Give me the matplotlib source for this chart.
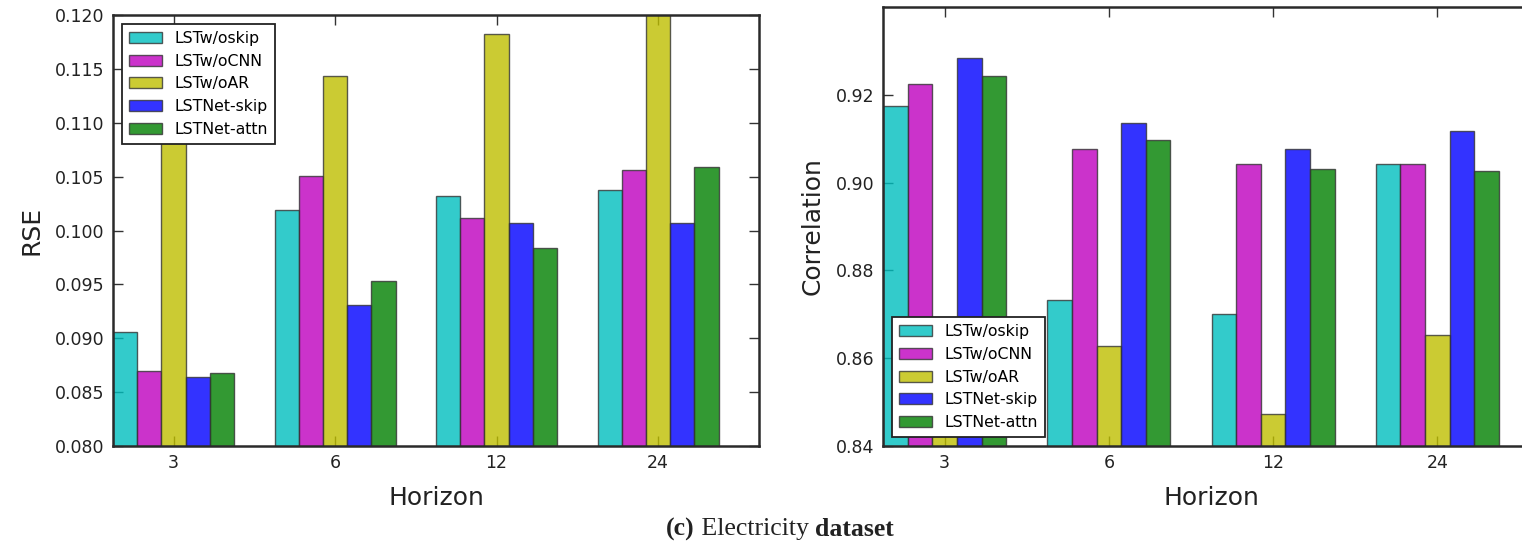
import matplotlib
matplotlib.use("Agg")
import matplotlib.pyplot as plt
import numpy as np

horizons = ["3", "6", "12", "24"]
series = ["LSTw/oskip", "LSTw/oCNN", "LSTw/oAR", "LSTNet-skip", "LSTNet-attn"]
colors = ["c", "m", "y", "b", "g"]

rse_wo_skip = [0.0906, 0.1019, 0.1032, 0.1038]
rse_wo_cnn = [0.0870, 0.1051, 0.1012, 0.1056]
rse_wo_ar = [0.1120, 0.1143, 0.1182, 0.1250]
rse_skip = [0.0864, 0.0931, 0.1007, 0.1007]
rse_attn = [0.0868, 0.0953, 0.0984, 0.1059]

corr_wo_skip = [0.9174, 0.8732, 0.8700, 0.9043]
corr_wo_cnn = [0.9225, 0.9077, 0.9043, 0.9042]
corr_wo_ar = [0.8560, 0.8628, 0.8474, 0.8653]
corr_skip = [0.9283, 0.9136, 0.9077, 0.9117]
corr_attn = [0.9243, 0.9096, 0.9030, 0.9026]

rse_yticks = [0.080, 0.085, 0.090, 0.095, 0.100, 0.105, 0.110, 0.115, 0.120]
corr_yticks = [0.84, 0.86, 0.88, 0.90, 0.92]

plt.rcParams["font.family"] = ["DejaVu Sans"]

fig = plt.figure(figsize=(15.22, 5.46), dpi=100)
ax1 = fig.add_axes([113/1522, 100/546, 646/1522, 431/546])
ax2 = fig.add_axes([883/1522, 100/546, 657/1522, 439/546])

width = 0.15
ind = np.arange(len(horizons))

def draw(ax, data, ylim, yticks, fmt, ylabel, legend_loc):
    for i, (vals, col, name) in enumerate(zip(data, colors, series)):
        ax.bar(ind + i * width, vals, width, align="edge", color=col, alpha=0.8,
               edgecolor="#333333", linewidth=1.0, label=name, zorder=2)
    ax.set_xlim(0, 4)
    ax.set_ylim(*ylim)
    ax.set_xticks(ind + 2.5 * width)
    ax.set_xticklabels(horizons)
    ax.set_yticks(yticks)
    ax.set_yticklabels([fmt % v for v in yticks])
    ax.tick_params(direction="in", top=True, right=True, length=7, width=1,
                   labelsize=12.5, pad=6, colors="#333333", labelcolor="#222222")
    for s in ax.spines.values():
        s.set_linewidth(1.8)
        s.set_color("#2a2a2a")
    ax.set_xlabel("Horizon", fontsize=18, color="#222222", labelpad=10)
    ax.set_ylabel(ylabel, fontsize=18, color="#222222", labelpad=8)
    leg = ax.legend(loc=legend_loc, fontsize=11.3, fancybox=False, framealpha=1,
                    edgecolor="#222222", borderaxespad=0.55, handlelength=2.1,
                    labelspacing=0.5, borderpad=0.45)
    leg.get_frame().set_linewidth(1.3)
    leg.set_zorder(5)

draw(ax1, [rse_wo_skip, rse_wo_cnn, rse_wo_ar, rse_skip, rse_attn],
     (0.080, 0.120), rse_yticks, "%.3f", "RSE", "upper left")
draw(ax2, [corr_wo_skip, corr_wo_cnn, corr_wo_ar, corr_skip, corr_attn],
     (0.84, 0.94), corr_yticks, "%.2f", "Correlation", "lower left")

# caption with mixed weights
fig.canvas.draw()
renderer = fig.canvas.get_renderer()
parts = [("(c)", "bold"), (" Electricity ", "normal"), ("dataset", "bold")]
texts = []
for s, w in parts:
    t = fig.text(0, 17/546, s, fontsize=18.5, fontweight=w, family="Liberation Serif",
                 color="#222222", va="center", ha="left")
    texts.append(t)
widths = [t.get_window_extent(renderer).width for t in texts]
total = sum(widths)
x = 780 - total / 2
for t, wdt in zip(texts, widths):
    t.set_x(x / 1522)
    x += wdt

fig.savefig("out.png", dpi=100)
